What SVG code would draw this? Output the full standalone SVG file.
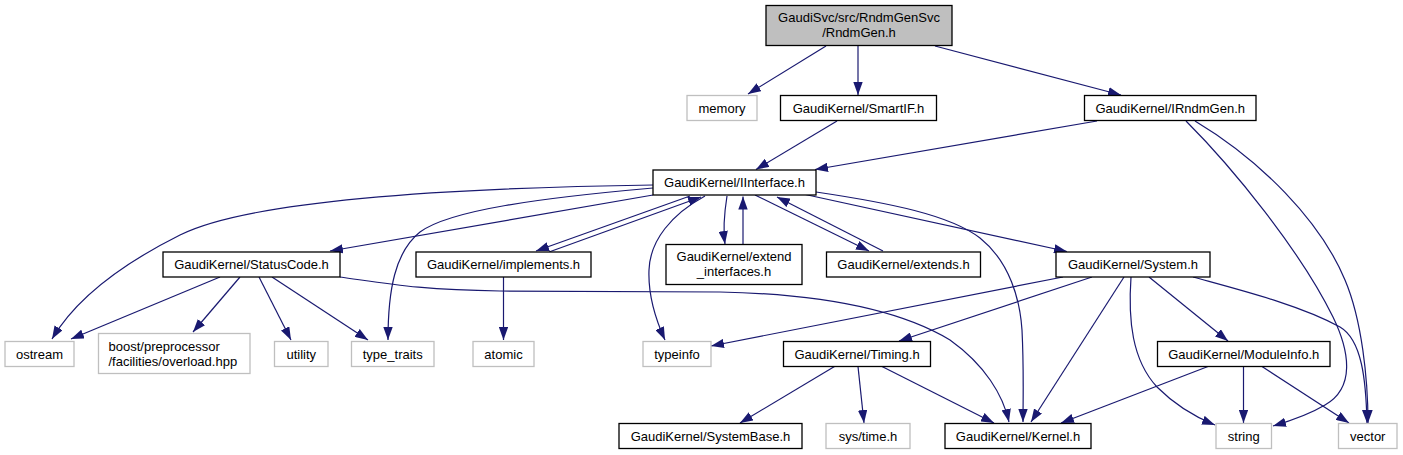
<svg xmlns="http://www.w3.org/2000/svg" width="1403" height="455" viewBox="0 0 1403 455">
<style>
.n rect{fill:#fff;stroke:#000;stroke-width:1.3}
.g rect{fill:#fff;stroke:#bfbfbf;stroke-width:1.3}
.root rect{fill:#bfbfbf;stroke:#000;stroke-width:1.3}
text{font-family:"Liberation Sans",Arial,sans-serif;font-size:13px;fill:#000;text-anchor:middle}
.e path{fill:none;stroke:#191970;stroke-width:1.2;marker-end:url(#a)}
</style>
<defs>
<marker id="a" markerWidth="13" markerHeight="9.4" refX="13" refY="4.7" orient="auto" markerUnits="userSpaceOnUse"><path d="M0,0 L13,4.7 L0,9.4 z" fill="#191970"/></marker>
</defs>
<rect x="0" y="0" width="1403" height="455" fill="#fff"/>
<g class="e" id="edges">
<path d="M826,46 L748,94"/>
<path d="M858,46 L858,95"/>
<path d="M935,46 L1121,95"/>
<path d="M837,121 L756,169.5"/>
<path d="M1097,121 L815,169.5"/>
<path d="M1186,121 C1232,167 1300,250 1333,317 C1350,352 1355,388 1325,405 C1310,414 1290,421 1273,426"/>
<path d="M1195,121 C1260,160 1320,220 1345,280 C1362,320 1368,380 1368,423"/>
<path d="M653,185 C450,188 250,200 180,235 C120,265 75,300 52,339"/>
<path d="M653,188 C540,198 450,210 420,232 C395,252 388,290 388,340"/>
<path d="M653,195 L330,251"/>
<path d="M690,196 L536,251"/>
<path d="M549,252 L701,197"/>
<path d="M705,196 C672,214 650,240 649,270 C648,295 655,318 665,340"/>
<path d="M727,196 C724,215 723,230 725,244"/>
<path d="M743,244 L743,196.5"/>
<path d="M755,195 L869,251"/>
<path d="M883,251 L777,197"/>
<path d="M803,194 L1067,251.5"/>
<path d="M816,192 C890,203 950,215 980,238 C1010,262 1020,300 1022,330 C1024,370 1023,400 1023,422"/>
<path d="M220,277 L71,339"/>
<path d="M240,277 L193,332"/>
<path d="M259,277 L291,340"/>
<path d="M272,277 L368,340"/>
<path d="M340,277 C390,284 420,290 500,291 L720,292 C820,294 900,310 950,340 C985,365 1003,395 1009,422"/>
<path d="M503.5,277 L503.5,340"/>
<path d="M1063,277 L711,346"/>
<path d="M1092,277 L899,341"/>
<path d="M1124,277 L1031,422"/>
<path d="M1131,277 C1128,320 1132,360 1157,387 C1175,405 1195,417 1215,425"/>
<path d="M1149,277 L1228,341"/>
<path d="M1193,277 C1240,290 1300,305 1340,327 C1362,340 1366,380 1367,423"/>
<path d="M834.5,366.5 L740,423"/>
<path d="M858,366.5 L864,423"/>
<path d="M882,366.5 L994,423"/>
<path d="M1208,366.5 L1061,423"/>
<path d="M1243.5,366.5 L1243.5,423"/>
<path d="M1262,366.5 L1349,423"/>
</g>
<g class="root" id="n_root"><rect x="766" y="5.5" width="186" height="40"/><text x="859" y="21.5">GaudiSvc/src/RndmGenSvc</text><text x="859" y="36.5">/RndmGen.h</text></g>
<g class="g" id="n_memory"><rect x="687" y="95.5" width="70" height="25"/><text x="722" y="112.5">memory</text></g>
<g class="n" id="n_smartif"><rect x="780.5" y="95.5" width="156" height="25"/><text x="858.5" y="112.5">GaudiKernel/SmartIF.h</text></g>
<g class="n" id="n_irndmgen"><rect x="1084.5" y="95.5" width="171.5" height="25"/><text x="1170.25" y="112.5">GaudiKernel/IRndmGen.h</text></g>
<g class="n" id="n_iinterface"><rect x="653" y="170" width="163" height="25"/><text x="734.5" y="187">GaudiKernel/IInterface.h</text></g>
<g class="n" id="n_statuscode"><rect x="163" y="252" width="177" height="25"/><text x="251.5" y="269">GaudiKernel/StatusCode.h</text></g>
<g class="n" id="n_implements"><rect x="416" y="252" width="175" height="25"/><text x="503.5" y="269">GaudiKernel/implements.h</text></g>
<g class="n" id="n_extend"><rect x="666" y="244.5" width="136" height="40"/><text x="734" y="261">GaudiKernel/extend</text><text x="734" y="276">_interfaces.h</text></g>
<g class="n" id="n_extends"><rect x="826.5" y="252" width="154" height="25"/><text x="903.5" y="269">GaudiKernel/extends.h</text></g>
<g class="n" id="n_system"><rect x="1056" y="252" width="154" height="25"/><text x="1133" y="269">GaudiKernel/System.h</text></g>
<g class="g" id="n_ostream"><rect x="5" y="341.5" width="69" height="25"/><text x="39.5" y="358.5">ostream</text></g>
<g class="g" id="n_boost"><rect x="98.5" y="333.5" width="151.5" height="40"/><text x="108.5" y="351" style="text-anchor:start">boost/preprocessor</text><text x="108.5" y="366" style="text-anchor:start">/facilities/overload.hpp</text></g>
<g class="g" id="n_utility"><rect x="274.5" y="341.5" width="53.5" height="25"/><text x="301.25" y="358.5">utility</text></g>
<g class="g" id="n_typetraits"><rect x="351.5" y="341.5" width="82.5" height="25"/><text x="392.75" y="358.5">type_traits</text></g>
<g class="g" id="n_atomic"><rect x="473" y="341.5" width="61" height="25"/><text x="503.5" y="358.5">atomic</text></g>
<g class="g" id="n_typeinfo"><rect x="643" y="341.5" width="68" height="25"/><text x="677" y="358.5">typeinfo</text></g>
<g class="n" id="n_timing"><rect x="783.5" y="341.5" width="147" height="25"/><text x="857" y="358.5">GaudiKernel/Timing.h</text></g>
<g class="n" id="n_moduleinfo"><rect x="1157.5" y="341.5" width="172.5" height="25"/><text x="1243.75" y="358.5">GaudiKernel/ModuleInfo.h</text></g>
<g class="n" id="n_systembase"><rect x="619" y="423.5" width="183" height="25"/><text x="710.5" y="440.5">GaudiKernel/SystemBase.h</text></g>
<g class="g" id="n_systime"><rect x="826" y="423.5" width="84" height="25"/><text x="868" y="440.5">sys/time.h</text></g>
<g class="n" id="n_kernel"><rect x="945" y="423.5" width="146" height="25"/><text x="1018" y="440.5">GaudiKernel/Kernel.h</text></g>
<g class="g" id="n_string"><rect x="1216" y="423.5" width="55.5" height="25"/><text x="1243.75" y="440.5">string</text></g>
<g class="g" id="n_vector"><rect x="1338.5" y="423.5" width="58.5" height="25"/><text x="1367.75" y="440.5">vector</text></g>
</svg>
